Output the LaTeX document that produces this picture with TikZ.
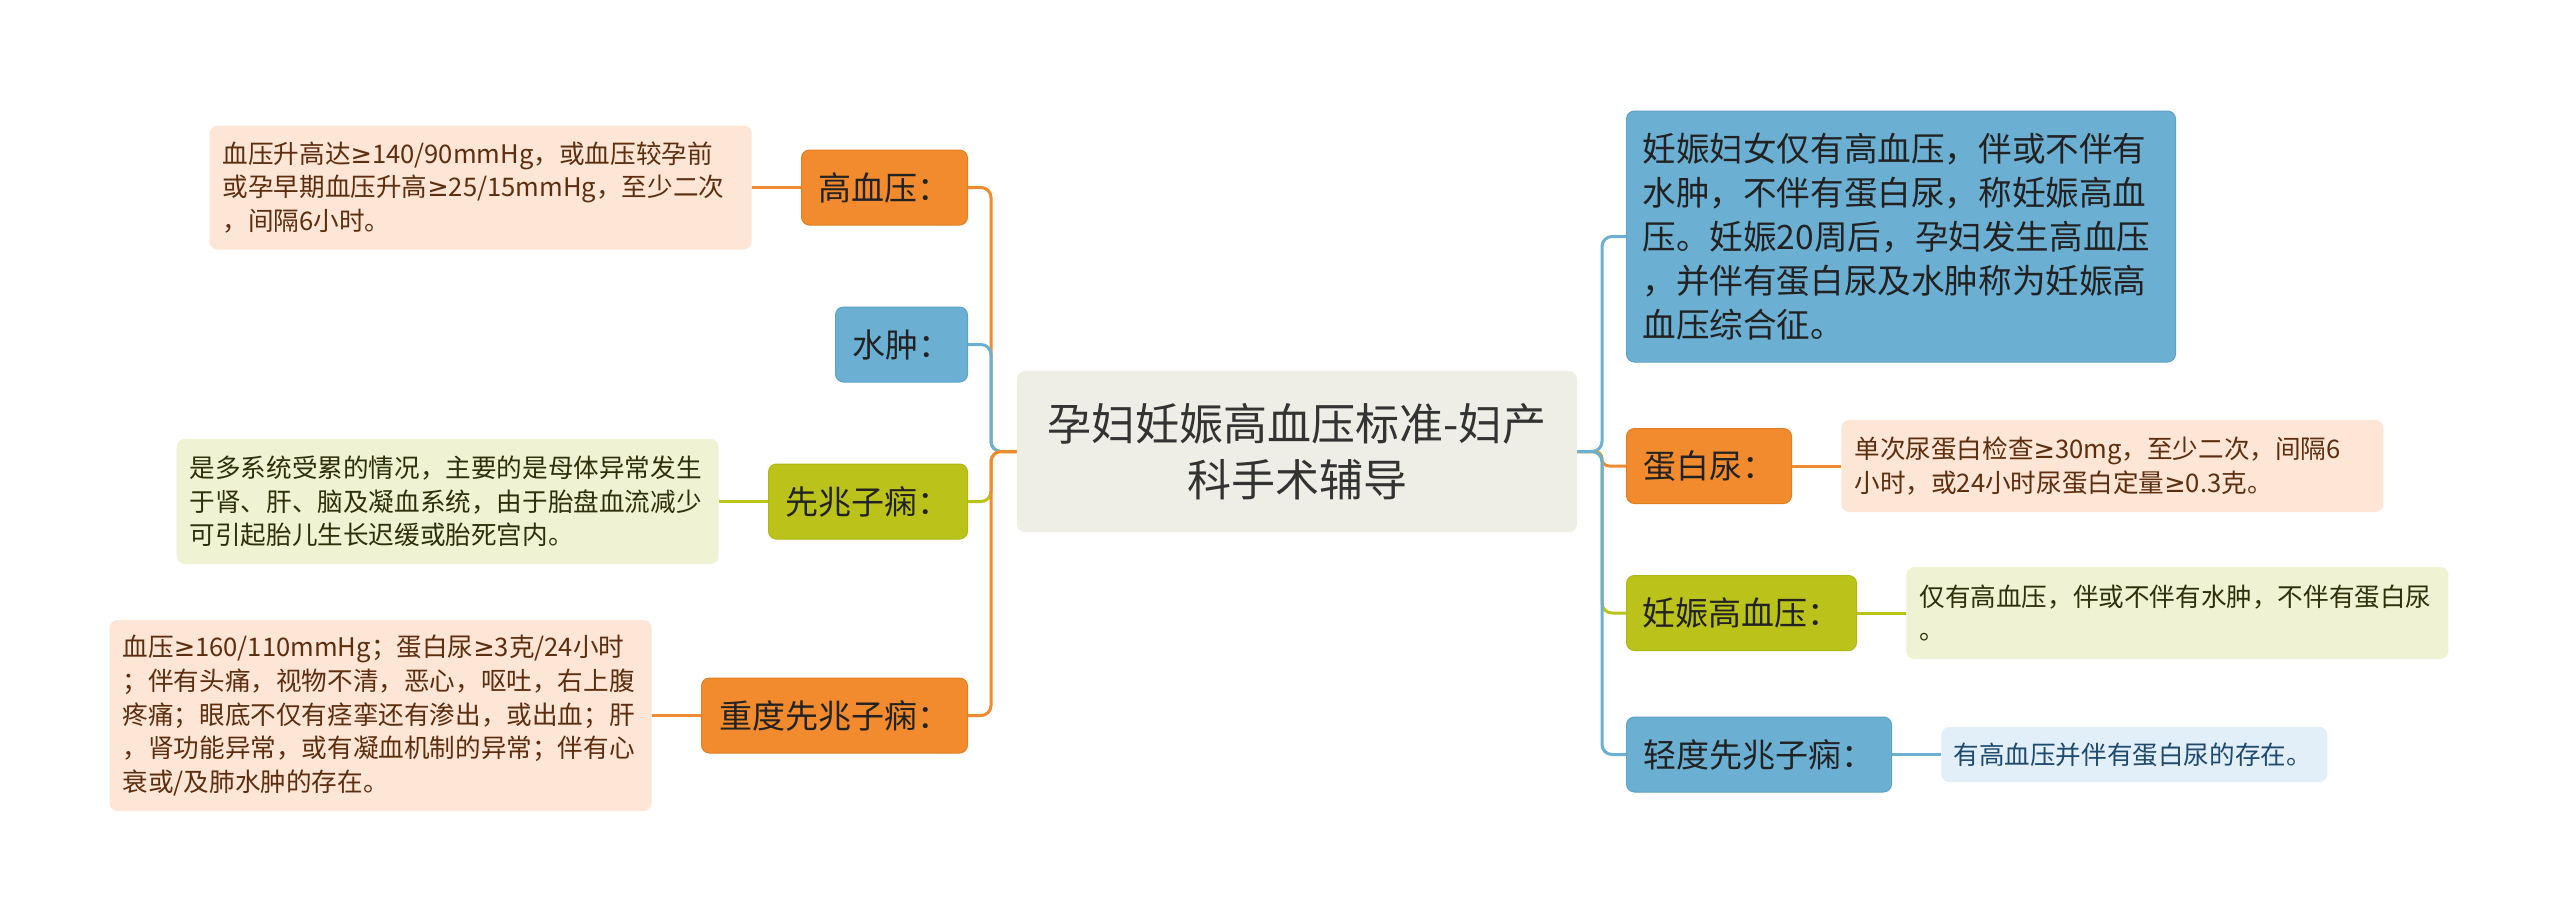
\documentclass[tikz,border=0pt]{standalone}
\usepackage{fontspec}
\setmainfont{Noto Sans CJK SC}
\newfontfamily\symfnt{DejaVu Sans}
\newcommand{\gesym}{{\symfnt ≥}}
\usepackage{xcolor}
\usetikzlibrary{positioning}
\definecolor{rootbg}{HTML}{EFEEE6}
\definecolor{rootink}{HTML}{333333}
\definecolor{topicink}{HTML}{222222}
\definecolor{orangefill}{HTML}{F18B2D}
\definecolor{orangeedge}{HTML}{E07E22}
\definecolor{bluefill}{HTML}{6BAFD3}
\definecolor{blueedge}{HTML}{5DA1C6}
\definecolor{olivefill}{HTML}{BBC31B}
\definecolor{oliveedge}{HTML}{AEB612}
\definecolor{orangenotebg}{HTML}{FDE6D6}
\definecolor{olivenotebg}{HTML}{EFF2D3}
\definecolor{bluenotebg}{HTML}{E2EFF8}
\definecolor{orangenoteink}{HTML}{5C2E0E}
\definecolor{olivenoteink}{HTML}{2E300A}
\definecolor{bluenoteink}{HTML}{1E4A6E}
\tikzset{
  rootbox/.style={fill=rootbg,rounded corners=4pt,
                  minimum width=280pt,minimum height=80.5pt,inner sep=0pt,
                  align=center,text=rootink,font=\fontsize{22}{28}\selectfont},
  topicbox/.style={rounded corners=4pt,line width=0.5pt,
                   minimum height=37.5pt,inner sep=0pt,
                   text=topicink,font=\fontsize{16.5}{22}\selectfont},
  orangetopic/.style={topicbox,fill=orangefill,draw=orangeedge},
  bluetopic/.style={topicbox,fill=bluefill,draw=blueedge},
  olivetopic/.style={topicbox,fill=olivefill,draw=oliveedge},
  notebox/.style={rounded corners=4pt,align=left,inner ysep=0pt,inner xsep=6.5pt,
                  text width=258pt,font=\fontsize{12.8}{16.8}\selectfont},
  orangenote/.style={notebox,fill=orangenotebg,text=orangenoteink},
  olivenote/.style={notebox,fill=olivenotebg,text=olivenoteink},
  bluenote/.style={notebox,fill=bluenotebg,text=bluenoteink},
  link/.style={line width=1.5pt,rounded corners=5pt}
}

\begin{document}
\begin{tikzpicture}[x=0.5pt,y=-0.5pt]
  \fill[white] (0,0) rectangle (2560,923);
  \useasboundingbox (0,0) rectangle (2560,923);

  \node[rootbox] (root) at (1297,451.5) {孕妇妊娠高血压标准-妇产\\科手术辅导};
  \coordinate (lhub) at (991,451.5);
  \coordinate (rhub) at (1602,451.5);

  % left branches
  \node[orangetopic,minimum width=83pt,anchor=east] (gxy) at (968,187.5) {高血压：};
  \node[bluetopic,minimum width=66pt,anchor=east] (sz) at (968,344.5) {水肿：};
  \node[olivetopic,minimum width=99.5pt,anchor=east] (xzzx) at (968,501.5) {先兆子痫：};
  \node[orangetopic,minimum width=133pt,anchor=east] (zdxz) at (968,715.5) {重度先兆子痫：};

  \node[orangenote,minimum height=62pt,left=24.5pt of gxy] (gxynote) {血压升高达\gesym140/90mmHg，或血压较孕前\\或孕早期血压升高\gesym25/15mmHg，至少二次\\，间隔6小时。};
  \node[olivenote,minimum height=62.5pt,left=24.5pt of xzzx] (xzzxnote) {是多系统受累的情况，主要的是母体异常发生\\于肾、肝、脑及凝血系统，由于胎盘血流减少\\可引起胎儿生长迟缓或胎死宫内。};
  \node[orangenote,minimum height=95.5pt,left=24.5pt of zdxz] (zdxznote) {血压\gesym160/110mmHg；蛋白尿\gesym3克/24小时\\；伴有头痛，视物不清，恶心，呕吐，右上腹\\疼痛；眼底不仅有痉挛还有渗出，或出血；肝\\，肾功能异常，或有凝血机制的异常；伴有心\\衰或/及肺水肿的存在。};

  \draw[link,orangefill] (root.west) -- (lhub) |- (gxy.east);
  \draw[link,bluefill] (root.west) -- (lhub) |- (sz.east);
  \draw[link,olivefill] (root.west) -- (lhub) |- (xzzx.east);
  \draw[link,orangefill] (root.west) -- (lhub) |- (zdxz.east);
  \draw[link,orangefill] (gxy.west) -- (gxynote.east);
  \draw[link,olivefill] (xzzx.west) -- (xzzxnote.east);
  \draw[link,orangefill] (zdxz.west) -- (zdxznote.east);

  % right branches
  \node[bluetopic,anchor=west,align=left,text width=258.5pt,inner xsep=8pt,
        minimum height=125.5pt,font=\fontsize{16.8}{22}\selectfont] (rsdef) at (1626,236.5)
       {妊娠妇女仅有高血压，伴或不伴有\\水肿，不伴有蛋白尿，称妊娠高血\\压。妊娠20周后，孕妇发生高血压\\，并伴有蛋白尿及水肿称为妊娠高\\血压综合征。};
  \node[orangetopic,minimum width=82.5pt,anchor=west] (dbn) at (1626,466) {蛋白尿：};
  \node[olivetopic,minimum width=115pt,anchor=west] (rsgxy) at (1626,613) {妊娠高血压：};
  \node[bluetopic,minimum width=132.5pt,anchor=west] (qdxz) at (1626,754.5) {轻度先兆子痫：};

  \node[orangenote,minimum height=46pt,right=24.5pt of dbn] (dbnnote) {单次尿蛋白检查\gesym30mg，至少二次，间隔6\\小时，或24小时尿蛋白定量\gesym0.3克。};
  \node[olivenote,minimum height=46pt,right=24.5pt of rsgxy] (rsgxynote) {仅有高血压，伴或不伴有水肿，不伴有蛋白尿\\。};
  \node[bluenote,minimum height=27.5pt,text width=181pt,inner xsep=6pt,right=24.5pt of qdxz] (qdxznote) {有高血压并伴有蛋白尿的存在。};

  \draw[link,bluefill] (root.east) -- (rhub) |- (rsdef.west);
  \draw[link,orangefill,rounded corners=3.5pt] (root.east) -- (rhub) |- (dbn.west);
  \draw[link,olivefill] (root.east) -- (rhub) |- (rsgxy.west);
  \draw[link,bluefill] (root.east) -- (rhub) |- (qdxz.west);
  \draw[link,orangefill] (dbn.east) -- (dbnnote.west);
  \draw[link,olivefill] (rsgxy.east) -- (rsgxynote.west);
  \draw[link,bluefill] (qdxz.east) -- (qdxznote.west);
\end{tikzpicture}
\end{document}
